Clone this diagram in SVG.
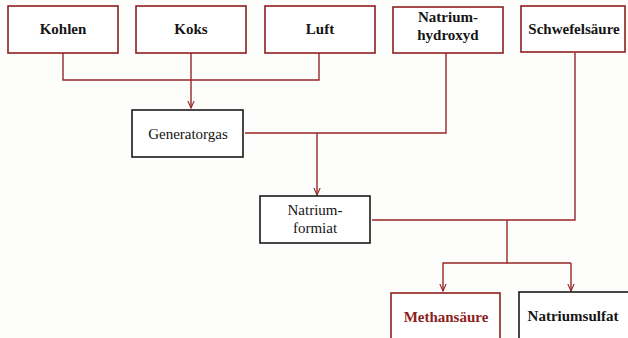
<svg xmlns="http://www.w3.org/2000/svg" width="628" height="338" viewBox="0 0 628 338">
<defs>
<style>
.bg{fill:#fdfdfb}
.rbox{fill:#ffffff;stroke:#8e1f1f;stroke-width:1.6}
.kbox{fill:#ffffff;stroke:#1a1a1a;stroke-width:1.6}
.t{font-family:"Liberation Serif","Times New Roman",serif;font-size:15px;text-anchor:middle;fill:#151515}
.b{font-weight:bold}
.red{fill:#8e1f1f}
.ln{fill:none;stroke:#962525;stroke-width:1.4}
</style>
<marker id="ah" viewBox="0 0 10 10" refX="9" refY="5" markerWidth="8" markerHeight="8" orient="auto" markerUnits="userSpaceOnUse">
<path d="M0,1 L9,5 L0,9" fill="none" stroke="#962525" stroke-width="1.4"/>
</marker>
</defs>
<rect class="bg" x="0" y="0" width="628" height="338"/>
<g id="connectors">
<path class="ln" d="M63,53 V80 H319 V53"/>
<path class="ln" d="M191,53 V108" marker-end="url(#ah)"/>
<path class="ln" d="M446,53 V133 H245"/>
<path class="ln" d="M317,133 V195" marker-end="url(#ah)"/>
<path class="ln" d="M372,220 H575 V53"/>
<path class="ln" d="M507,220 V263 H571"/>
<path class="ln" d="M507,263 H443 V291" marker-end="url(#ah)"/>
<path class="ln" d="M571,263 V291" marker-end="url(#ah)"/>
</g>
<g id="kohlen"><rect class="rbox" x="8" y="6" width="110" height="47"/><text class="t b" x="63" y="34">Kohlen</text></g>
<g id="koks"><rect class="rbox" x="136" y="6" width="110" height="47"/><text class="t b" x="191" y="34">Koks</text></g>
<g id="luft"><rect class="rbox" x="265" y="6" width="110" height="47"/><text class="t b" x="320" y="34">Luft</text></g>
<g id="natriumhydroxyd"><rect class="rbox" x="393" y="7" width="110" height="46"/><text class="t b" x="448" y="22">Natrium-</text><text class="t b" x="448" y="40">hydroxyd</text></g>
<g id="schwefelsaeure"><rect class="rbox" x="521" y="6" width="104" height="46"/><text class="t b" x="574" y="34">Schwefelsäure</text></g>
<g id="generatorgas"><rect class="kbox" x="132" y="110" width="111" height="47"/><text class="t" x="188" y="139">Generatorgas</text></g>
<g id="natriumformiat"><rect class="kbox" x="260" y="196" width="110" height="47"/><text class="t" x="315" y="215">Natrium-</text><text class="t" x="315" y="233">formiat</text></g>
<g id="methansaeure"><rect class="rbox" x="391" y="293" width="109" height="50"/><text class="t b red" x="446" y="322">Methansäure</text></g>
<g id="natriumsulfat"><rect class="kbox" x="519" y="292" width="112" height="50"/><text class="t b" x="573" y="321">Natriumsulfat</text></g>
</svg>
